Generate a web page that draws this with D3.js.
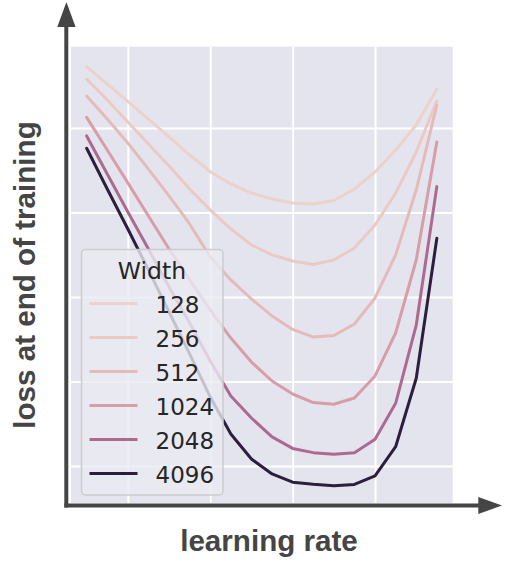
<!DOCTYPE html>
<html>
<head>
<meta charset="utf-8">
<script src="https://cdn.jsdelivr.net/npm/d3@7"></script>
<style>
  body { margin: 0; background: #fff; }
</style>
</head>
<body>
<div id="chart"></div>
<script>
// log2 of the learning rate, one entry per point on each curve
var lrLog2 = [-14, -13, -12, -11, -10, -9, -8, -7, -6, -5, -4, -3, -2, -1, 0, 1, 2, 3];
var widths = [128, 256, 512, 1024, 2048, 4096];

var loss128  = [5.363, 5.260, 5.157, 5.053, 4.947, 4.840, 4.741, 4.669, 4.615, 4.580, 4.556, 4.550, 4.571, 4.639, 4.740, 4.870, 5.018, 5.231];
var loss256  = [5.290, 5.166, 5.036, 4.905, 4.775, 4.639, 4.515, 4.402, 4.308, 4.249, 4.213, 4.192, 4.219, 4.290, 4.426, 4.615, 4.858, 5.160];
var loss512  = [5.189, 5.053, 4.911, 4.757, 4.598, 4.432, 4.237, 4.101, 3.988, 3.888, 3.808, 3.763, 3.772, 3.840, 3.994, 4.249, 4.633, 5.136];
var loss1024 = [5.063, 4.870, 4.675, 4.479, 4.284, 4.101, 3.923, 3.757, 3.615, 3.503, 3.426, 3.375, 3.365, 3.402, 3.533, 3.787, 4.219, 4.917];
var loss2048 = [4.953, 4.728, 4.503, 4.284, 4.059, 3.846, 3.621, 3.414, 3.284, 3.172, 3.104, 3.079, 3.069, 3.079, 3.158, 3.371, 3.834, 4.653];
var loss4096 = [4.880, 4.639, 4.402, 4.160, 3.911, 3.663, 3.408, 3.189, 3.041, 2.953, 2.904, 2.892, 2.883, 2.891, 2.941, 3.114, 3.519, 4.347];

// grid positions (no tick labels are shown in the figure)
var xGridTicks = [-12, -8, -4, 0];
var yGridTicks = [3, 3.5, 4, 4.5, 5];

var series = [loss128, loss256, loss512, loss1024, loss2048, loss4096];

var width = 510, height = 566;
var plot = {left: 71, right: 452.7, top: 46.7, bottom: 503};
var axisColor = "#454545";

var svg = d3.select("#chart")
    .append("svg")
    .attr("width", width)
    .attr("height", height);

var x = d3.scaleLinear()
    .domain([-14.76, 3.77])
    .range([plot.left, plot.right]);

var y = d3.scaleLinear()
    .domain([2.781, 5.481])
    .range([plot.bottom, plot.top]);

// seaborn-style cubehelix ("ch:") colormap, hue normalised linearly on width
function cubehelix(t) {
  var light = 0.85, dark = 0.15, start = 0, rot = 0.4, hue = 0.8, gamma = 1;
  var v = light + (dark - light) * t;
  var vg = Math.pow(v, gamma);
  var a = hue * vg * (1 - vg) / 2;
  var phi = 2 * Math.PI * (start / 3 + rot * v);
  function ch(p0, p1) {
    var c = vg + a * (p0 * Math.cos(phi) + p1 * Math.sin(phi));
    return Math.round(Math.max(0, Math.min(1, c)) * 255);
  }
  return d3.rgb(ch(-0.14861, 1.78277), ch(-0.29227, -0.90649), ch(1.97294, 0)).toString();
}
var hueNorm = d3.scaleLinear().domain(d3.extent(widths)).range([0, 1]);
var color = function(w) { return cubehelix(hueNorm(w)); };

// background
svg.append("rect")
    .attr("x", plot.left)
    .attr("y", plot.top)
    .attr("width", plot.right - plot.left)
    .attr("height", plot.bottom - plot.top)
    .attr("fill", "#e4e4ee");

// grid
svg.append("g")
    .attr("transform", "translate(0," + plot.bottom + ")")
    .call(d3.axisBottom(x).tickValues(xGridTicks).tickSize(-(plot.bottom - plot.top)).tickFormat(""))
    .call(function(g) { g.select(".domain").remove(); })
    .selectAll("line")
    .attr("stroke", "#fff")
    .attr("stroke-width", 2);

svg.append("g")
    .attr("transform", "translate(" + plot.left + ",0)")
    .call(d3.axisLeft(y).tickValues(yGridTicks).tickSize(-(plot.right - plot.left)).tickFormat(""))
    .call(function(g) { g.select(".domain").remove(); })
    .selectAll("line")
    .attr("stroke", "#fff")
    .attr("stroke-width", 2);

// curves
var line = d3.line()
    .x(function(d, i) { return x(lrLog2[i]); })
    .y(function(d) { return y(d); });

svg.append("g")
    .selectAll("path")
    .data(series)
    .enter().append("path")
      .attr("d", line)
      .attr("fill", "none")
      .attr("stroke", function(d, i) { return color(widths[i]); })
      .attr("stroke-width", 3)
      .attr("stroke-linejoin", "round")
      .attr("stroke-linecap", "round");

// arrow axes
svg.append("line")
    .attr("x1", 66.3).attr("y1", 507.6)
    .attr("x2", 66.3).attr("y2", 25)
    .attr("stroke", axisColor)
    .attr("stroke-width", 4);
svg.append("path")
    .attr("d", "M57.3,27L75.6,27L66.4,2Z")
    .attr("fill", axisColor);

svg.append("line")
    .attr("x1", 64.3).attr("y1", 505.5)
    .attr("x2", 480).attr("y2", 505.5)
    .attr("stroke", axisColor)
    .attr("stroke-width", 4);
svg.append("path")
    .attr("d", "M478.3,497L478.3,514L502,505.5Z")
    .attr("fill", axisColor);

// axis labels
svg.append("text")
    .attr("x", 269)
    .attr("y", 551)
    .attr("text-anchor", "middle")
    .attr("font-family", "'Liberation Sans', Arial, sans-serif")
    .attr("font-weight", "bold")
    .attr("font-size", 29.6)
    .attr("fill", axisColor)
    .text("learning rate");

svg.append("text")
    .attr("transform", "translate(35,275) rotate(-90)")
    .attr("text-anchor", "middle")
    .attr("font-family", "'Liberation Sans', Arial, sans-serif")
    .attr("font-weight", "bold")
    .attr("font-size", 29.6)
    .attr("fill", axisColor)
    .text("loss at end of training");

// legend
var legend = svg.append("g")
    .attr("font-family", "'DejaVu Sans', sans-serif")
    .attr("fill", "#262626");

legend.append("rect")
    .attr("x", 81.5)
    .attr("y", 249.5)
    .attr("width", 141.5)
    .attr("height", 245.5)
    .attr("rx", 4)
    .attr("fill", "#eaeaf2")
    .attr("fill-opacity", 0.8)
    .attr("stroke", "#cccccc")
    .attr("stroke-width", 1.5);

legend.append("text")
    .attr("x", 152)
    .attr("y", 278.5)
    .attr("text-anchor", "middle")
    .attr("font-size", 23.5)
    .text("Width");

var item = legend.selectAll("g.item")
    .data(widths)
    .enter().append("g")
      .attr("class", "item")
      .attr("transform", function(d, i) { return "translate(0," + (303.5 + i * 34) + ")"; });

item.append("line")
    .attr("x1", 89.5)
    .attr("x2", 137.5)
    .attr("stroke", color)
    .attr("stroke-width", 3);

item.append("text")
    .attr("x", 155.5)
    .attr("y", 9)
    .attr("font-size", 23)
    .text(function(d) { return d; });
</script>
</body>
</html>
